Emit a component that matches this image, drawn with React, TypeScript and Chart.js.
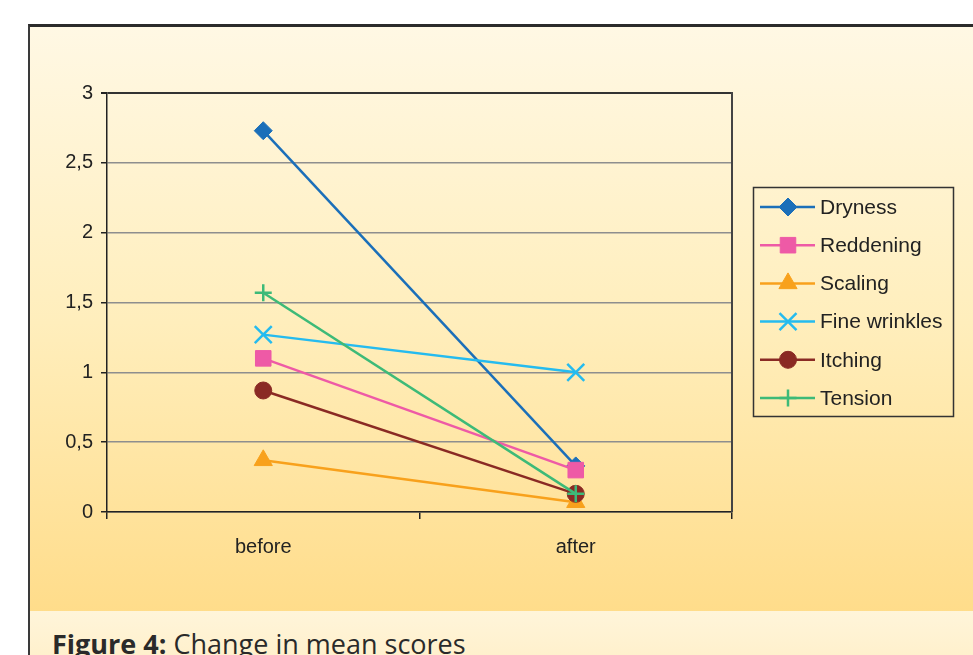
import React, { useEffect, useRef } from "react";
import { Chart, registerables } from "chart.js";
import { drawPoint } from "chart.js/helpers";

Chart.register(...registerables);

const categories = ["before", "after"];
const seriesNames = ["Dryness", "Reddening", "Scaling", "Fine wrinkles", "Itching", "Tension"];
const dryness = [2.73, 0.33];
const reddening = [1.1, 0.3];
const scaling = [0.37, 0.07];
const fineWrinkles = [1.27, 1.0];
const itching = [0.87, 0.13];
const tension = [1.57, 0.13];
const yTicks = [0, 0.5, 1, 1.5, 2, 2.5, 3];

const seriesValues = [dryness, reddening, scaling, fineWrinkles, itching, tension];
const colors = ["#1b6fb9", "#ee5aa6", "#f8a11c", "#25bbef", "#8a2a24", "#3dba78"];
const pointStyles = ["rectRot", "rect", "triangle", "crossRot", "circle", "cross"];
const radii = [9, 11, 10.5, 12, 8.5, 8.5];

const FONT = "'Liberation Sans', Arial, sans-serif";

const legendPlugin = {
  id: "customLegend",
  afterDraw(chart: any) {
    const ctx = chart.ctx;
    const bx = 753.5, by = 187.5, bw = 200, bh = 229;
    ctx.save();
    ctx.strokeStyle = "#333";
    ctx.lineWidth = 1.5;
    ctx.strokeRect(bx, by, bw, bh);
    // plot frame right edge
    const a = chart.chartArea;
    ctx.strokeStyle = "#444";
    ctx.lineWidth = 2;
    ctx.beginPath();
    ctx.moveTo(a.right, a.top - 1);
    ctx.lineTo(a.right, a.bottom);
    ctx.stroke();

    chart.data.datasets.forEach((ds: any, i: number) => {
      const cy = 207 + i * 38.2;
      ctx.strokeStyle = ds.borderColor;
      ctx.lineWidth = 2.5;
      ctx.beginPath();
      ctx.moveTo(760, cy);
      ctx.lineTo(815, cy);
      ctx.stroke();
      ctx.fillStyle = ds.pointBackgroundColor;
      ctx.strokeStyle = ds.pointBorderColor;
      ctx.lineWidth = ds.pointBorderWidth;
      drawPoint(
        ctx,
        { pointStyle: ds.pointStyle, radius: ds.pointRadius, rotation: 0, borderWidth: ds.pointBorderWidth },
        788,
        cy
      );
      ctx.fillStyle = "#222";
      ctx.font = `21px ${FONT}`;
      ctx.textBaseline = "middle";
      ctx.textAlign = "left";
      ctx.fillText(ds.label, 820, cy + 1);
    });
    ctx.restore();
  },
};

export default function App() {
  const canvasRef = useRef<HTMLCanvasElement | null>(null);

  useEffect(() => {
    if (!canvasRef.current) return;
    const chart = new Chart(canvasRef.current, {
      type: "line",
      data: {
        labels: categories,
        datasets: seriesNames.map((name, i) => ({
          label: name,
          data: seriesValues[i],
          borderColor: colors[i],
          backgroundColor: colors[i],
          pointBackgroundColor: colors[i],
          pointBorderColor: colors[i],
          pointStyle: pointStyles[i],
          pointRadius: radii[i],
          pointBorderWidth: i === 3 || i === 5 ? 2.5 : 1,
          borderWidth: 2.5,
          tension: 0,
          order: seriesNames.length - i,
        })),
      },
      options: {
        responsive: false,
        animation: false,
        layout: { padding: { left: 0, top: 93, right: 241, bottom: 0 } },
        plugins: { legend: { display: false }, tooltip: { enabled: false } },
        scales: {
          x: {
            type: "category",
            offset: true,
            grid: {
              offset: true,
              drawOnChartArea: false,
              drawTicks: true,
              tickLength: 7,
              tickColor: "#222",
              lineWidth: 1.5,
            },
            border: { color: "#222", width: 1.5 },
            ticks: { color: "#222", font: { family: FONT, size: 20 }, padding: 16 },
            afterFit: (s: any) => {
              s.height = 143;
            },
          },
          y: {
            min: 0,
            max: 3,
            afterBuildTicks: (s: any) => {
              s.ticks = yTicks.map((v) => ({ value: v }));
            },
            grid: {
              color: (c: any) => (c.tick && c.tick.value === 3 ? "#333" : "#8e8e8e"),
              lineWidth: (c: any) => (c.tick && c.tick.value === 3 ? 2 : 1.5),
              tickColor: "#222",
              tickLength: 6,
              drawTicks: true,
            },
            border: { color: "#222", width: 1.5 },
            ticks: {
              color: "#222",
              font: { family: FONT, size: 20 },
              padding: 8,
              callback: (v: any) => String(v).replace(".", ","),
            },
            afterFit: (s: any) => {
              s.width = 107;
            },
          },
        },
      },
      plugins: [legendPlugin],
    } as any);
    return () => chart.destroy();
  }, []);

  return (
    <div
      style={{
        position: "fixed",
        left: 0,
        top: 0,
        width: 973,
        height: 655,
        overflow: "hidden",
        background: "#ffffff",
      }}
    >
      <div
        style={{
          position: "absolute",
          left: 28,
          top: 24,
          width: 960,
          height: 660,
          borderTop: "3px solid #2b2b2b",
          borderLeft: "2px solid #3a3a3a",
          background: "linear-gradient(to bottom, #fff8e4 0%, #ffeebc 45%, #ffd87e 100%)",
          boxSizing: "border-box",
        }}
      />
      <div
        style={{
          position: "absolute",
          left: 30,
          top: 611,
          width: 960,
          height: 60,
          background: "linear-gradient(to bottom, #fff5da 0%, #ffefc8 100%)",
        }}
      />
      <div
        style={{
          position: "absolute",
          left: 52,
          top: 626,
          fontFamily: "'Open Sans', 'Noto Sans', sans-serif",
          fontSize: 27,
          color: "#2a2a2a",
          whiteSpace: "nowrap",
          lineHeight: "36px",
        }}
      >
        <b>Figure 4:</b> Change in mean scores
      </div>
      <canvas
        ref={canvasRef}
        width={973}
        height={655}
        style={{ position: "absolute", left: 0, top: 0, width: 973, height: 655 }}
      />
    </div>
  );
}
